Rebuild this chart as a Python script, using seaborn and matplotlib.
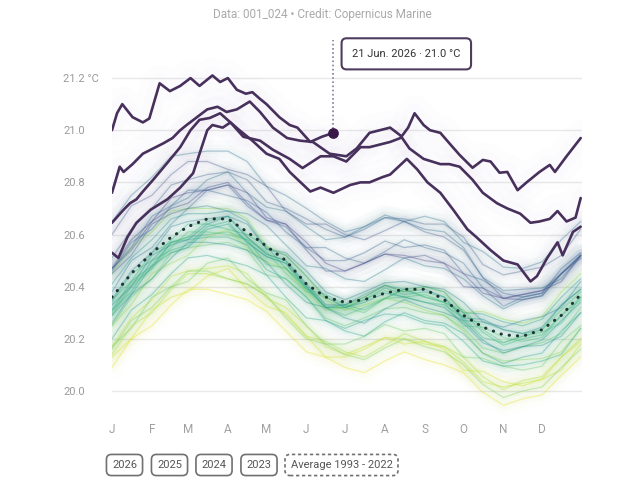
import pandas as pd
import matplotlib.pyplot as plt
import seaborn as sns
from matplotlib import colormaps

sns.set_theme(style="white")
plt.rcParams['font.family'] = ['Roboto', 'DejaVu Sans']

# day-of-year grid used for the average and the 1993-2022 years
grid_days = [0, 15, 31, 46, 59, 74, 90, 105, 120, 135, 151, 166, 181, 196, 212, 227, 243, 258, 273, 288, 304, 319, 334, 349, 364]
avg_temp = [20.36, 20.45, 20.53, 20.59, 20.63, 20.66, 20.66, 20.61, 20.555, 20.50, 20.41, 20.36, 20.34,
            20.35, 20.375, 20.39, 20.39, 20.35, 20.29, 20.245, 20.215, 20.21, 20.235, 20.29, 20.37]

# past years, anomaly vs the average in hundredths of a degree
anom_1993 = [-27, -25, -28, -26, -24, -27, -29, -26, -25, -27, -26, -23, -25, -28, -26, -24, -27, -25, -22, -25, -27, -24, -25, -23, -24]
anom_1994 = [-23, -25, -22, -23, -25, -22, -19, -22, -23, -20, -20, -23, -21, -19, -17, -21, -20, -19, -21, -17, -18, -19, -19, -16, -18]
anom_1995 = [-19, -17, -18, -15, -17, -19, -18, -16, -20, -18, -16, -19, -20, -18, -17, -19, -21, -18, -18, -21, -20, -18, -19, -21, -19]
anom_1996 = [-22, -20, -23, -20, -18, -21, -23, -20, -19, -21, -20, -17, -19, -22, -20, -17, -20, -18, -16, -19, -21, -17, -18, -16, -17]
anom_1997 = [-11, -12, -8, -10, -11, -7, -4, -6, -6, -3, -3, -5, -2, 1, 3, -1, 1, 3, 1, 6, 6, 5, 5, 9, 8]
anom_1998 = [9, 10, 8, 10, 7, 4, 4, 5, 0, 2, 3, -1, -3, -2, -2, -5, -8, -6, -6, -10, -10, -9, -11, -14, -13]
anom_1999 = [-20, -18, -21, -19, -17, -20, -23, -20, -19, -22, -21, -18, -20, -23, -21, -19, -22, -20, -19, -22, -24, -21, -22, -20, -21]
anom_2000 = [-19, -21, -17, -19, -21, -17, -15, -18, -18, -15, -16, -18, -16, -14, -12, -16, -15, -13, -16, -12, -12, -13, -14, -10, -12]
anom_2001 = [-11, -9, -10, -6, -8, -10, -9, -7, -11, -7, -5, -8, -9, -7, -6, -7, -9, -6, -5, -8, -7, -4, -5, -7, -5]
anom_2002 = [-6, -4, -6, -4, -2, -5, -6, -3, -2, -5, -3, 0, -2, -5, -2, 0, -3, -1, 2, -1, -3, 0, 0, 2, 1]
anom_2003 = [-1, -3, 0, -2, -4, -1, 1, -2, -3, 0, -1, -4, -2, 0, 1, -3, -2, -1, -4, 0, -1, -2, -3, 0, -2]
anom_2004 = [-7, -5, -6, -2, -4, -6, -5, -3, -7, -3, -1, -4, -5, -3, -2, -3, -5, -2, -1, -4, -3, 0, -1, -3, -1]
anom_2005 = [-2, 0, -3, -1, 1, -2, -4, -1, 0, -3, -2, 1, -1, -4, -2, 0, -3, -1, 1, -2, -4, -1, -2, 0, -1]
anom_2006 = [-5, -7, -3, -5, -7, -3, -1, -4, -4, -1, -2, -4, -2, 0, 2, -2, -1, 1, -2, 2, 2, 1, 0, 4, 2]
anom_2007 = [-5, -3, -5, -2, -5, -7, -7, -5, -9, -7, -5, -9, -10, -8, -8, -10, -13, -10, -10, -13, -12, -11, -12, -15, -13]
anom_2008 = [-16, -14, -16, -14, -12, -14, -16, -13, -11, -14, -13, -9, -11, -14, -11, -9, -12, -9, -7, -10, -11, -8, -9, -6, -7]
anom_2009 = [-7, -8, -5, -6, -8, -4, -2, -4, -4, -1, -1, -4, -1, 2, 3, 0, 1, 3, 1, 5, 5, 4, 4, 7, 6]
anom_2010 = [5, 6, 5, 7, 5, 2, 3, 4, -1, 2, 3, 0, -2, -1, 0, -3, -5, -3, -3, -6, -6, -4, -6, -8, -7]
anom_2011 = [-10, -8, -10, -8, -6, -9, -10, -7, -6, -9, -7, -4, -6, -9, -6, -4, -7, -5, -2, -5, -7, -4, -4, -2, -3]
anom_2012 = [-3, -5, -1, -3, -5, -2, 1, -2, -3, 0, 0, -3, -1, 1, 3, -1, 0, 1, -1, 3, 2, 1, 1, 4, 2]
anom_2013 = [-1, 1, 0, 4, 2, 0, 1, 3, -1, 3, 5, 2, 1, 3, 4, 3, 1, 4, 5, 2, 3, 6, 5, 3, 5]
anom_2014 = [2, 5, 2, 5, 7, 5, 3, 7, 8, 6, 7, 11, 9, 7, 9, 12, 9, 12, 14, 12, 10, 14, 13, 16, 15]
anom_2015 = [11, 10, 14, 12, 11, 15, 18, 15, 15, 19, 22, 22, 25, 28, 30, 26, 28, 30, 28, 29, 26, 26, 26, 29, 28]
anom_2016 = [29, 30, 29, 31, 28, 26, 26, 27, 23, 25, 29, 29, 27, 28, 29, 26, 23, 26, 26, 19, 17, 18, 16, 14, 15]
anom_2017 = [10, 12, 9, 12, 14, 11, 9, 12, 13, 11, 14, 19, 17, 14, 16, 19, 16, 18, 20, 15, 11, 15, 14, 16, 15]
anom_2018 = [9, 7, 11, 9, 7, 11, 13, 10, 10, 13, 14, 14, 16, 18, 20, 16, 17, 19, 16, 18, 16, 15, 14, 18, 16]
anom_2019 = [15, 17, 17, 20, 18, 17, 18, 20, 17, 20, 25, 26, 25, 27, 29, 27, 25, 29, 30, 24, 23, 25, 24, 23, 25]
anom_2020 = [24, 26, 22, 24, 25, 22, 19, 22, 23, 19, 23, 28, 26, 23, 24, 26, 22, 24, 25, 19, 14, 16, 15, 16, 15]
anom_2021 = [11, 9, 12, 11, 9, 12, 14, 11, 10, 14, 13, 10, 12, 14, 15, 12, 13, 14, 11, 15, 14, 14, 13, 16, 14]
anom_2022 = [11, 13, 12, 15, 13, 11, 13, 15, 11, 14, 16, 13, 12, 14, 15, 13, 11, 14, 16, 13, 14, 16, 15, 13, 15]

past_years = list(range(1993, 2023))
past_anoms = [anom_1993, anom_1994, anom_1995, anom_1996, anom_1997, anom_1998, anom_1999, anom_2000,
              anom_2001, anom_2002, anom_2003, anom_2004, anom_2005, anom_2006, anom_2007, anom_2008,
              anom_2009, anom_2010, anom_2011, anom_2012, anom_2013, anom_2014, anom_2015, anom_2016,
              anom_2017, anom_2018, anom_2019, anom_2020, anom_2021, anom_2022]

# highlighted years
days_2023 = [0, 5, 12, 19, 30, 43, 53, 63, 68, 74, 78, 86, 92, 102, 115, 125, 138, 148, 162, 172, 182, 193, 200,
             216, 224, 230, 235, 242, 247, 255, 262, 270, 280, 288, 294, 301, 307, 315, 322, 332, 340, 344, 353, 364]
temp_2023 = [20.53, 20.51, 20.59, 20.645, 20.695, 20.735, 20.78, 20.835, 20.91, 21.00, 21.02, 21.01, 21.03, 20.975,
             20.96, 20.925, 20.89, 20.855, 20.90, 20.90, 20.88, 20.935, 20.935, 20.955, 20.97, 21.01, 21.065, 21.02,
             21.00, 20.99, 20.95, 20.905, 20.856, 20.886, 20.88, 20.837, 20.84, 20.77, 20.80, 20.84, 20.867, 20.84,
             20.90, 20.97]
days_2024 = [0, 9, 14, 19, 24, 32, 43, 53, 61, 68, 76, 84, 92, 99, 109, 120, 130, 138, 154, 162, 172, 185, 193,
             200, 210, 216, 229, 237, 245, 255, 265, 276, 283, 294, 304, 315, 325, 330, 338, 346, 350, 358, 364]
temp_2024 = [20.645, 20.695, 20.72, 20.735, 20.765, 20.81, 20.875, 20.935, 21.00, 21.04, 21.047, 21.065, 21.03,
             21.00, 20.96, 20.91, 20.89, 20.84, 20.765, 20.78, 20.76, 20.79, 20.80, 20.80, 20.82, 20.83, 20.89,
             20.85, 20.80, 20.76, 20.695, 20.62, 20.59, 20.54, 20.50, 20.485, 20.42, 20.44, 20.51, 20.57, 20.52,
             20.61, 20.63]
days_2025 = [0, 6, 9, 16, 24, 32, 40, 47, 53, 58, 66, 74, 82, 89, 97, 107, 115, 125, 136, 146, 156, 169, 182,
             190, 200, 216, 224, 231, 242, 255, 262, 270, 280, 288, 299, 307, 317, 325, 332, 340, 346, 353, 360, 364]
temp_2025 = [20.76, 20.86, 20.84, 20.87, 20.91, 20.93, 20.95, 20.97, 21.00, 21.02, 21.05, 21.08, 21.09, 21.07,
             21.08, 21.11, 21.07, 21.01, 20.97, 20.96, 20.955, 20.91, 20.90, 20.93, 20.99, 21.01, 20.98, 20.93,
             20.89, 20.87, 20.87, 20.86, 20.81, 20.76, 20.72, 20.70, 20.68, 20.645, 20.65, 20.66, 20.69, 20.65,
             20.665, 20.74]
days_2026 = [0, 4, 8, 16, 24, 29, 37, 45, 53, 61, 68, 78, 84, 90, 97, 104, 109, 115, 120, 130, 138, 144, 154, 163, 172]
temp_2026 = [21.00, 21.066, 21.10, 21.05, 21.03, 21.045, 21.18, 21.15, 21.17, 21.20, 21.17, 21.21, 21.185, 21.20,
             21.155, 21.14, 21.146, 21.12, 21.10, 21.05, 21.02, 21.01, 20.955, 20.975, 20.99]

month_days = [0, 31, 59, 90, 120, 151, 181, 212, 243, 273, 304, 334]
month_labels = ['J', 'F', 'M', 'A', 'M', 'J', 'J', 'A', 'S', 'O', 'N', 'D']
y_ticks = [20.0, 20.2, 20.4, 20.6, 20.8, 21.0, 21.2]
y_labels = ['20.0', '20.2', '20.4', '20.6', '20.8', '21.0', '21.2 °C']
legend_labels = ['2026', '2025', '2024', '2023']

# build long table for the past years
rows = []
for year, anom in zip(past_years, past_anoms):
    for d, a, base in zip(grid_days, anom, avg_temp):
        rows.append((year, d, base + a / 100))
past = pd.DataFrame(rows, columns=['year', 'day', 'temp'])

cmap = colormaps['viridis']
pal = {y: cmap(0.95 - 0.75 * (y - 1993) / 29) for y in past_years}

fig = plt.figure(figsize=(6.38, 4.87), dpi=100)
ax = fig.add_axes([0.1755, 0.1437, 0.7367, 0.7495])

# soft haze (a few widths so it fades out) + thin lines for 1993-2022
for lw, a in [(16, 0.012), (9, 0.02), (4, 0.03)]:
    sns.lineplot(data=past, x='day', y='temp', hue='year', palette=pal, linewidth=lw, alpha=a,
                 legend=False, estimator=None, ax=ax)
sns.lineplot(data=past, x='day', y='temp', hue='year', palette=pal, linewidth=0.9, alpha=0.35,
             legend=False, estimator=None, ax=ax)

# average 1993-2022
sns.lineplot(x=grid_days, y=avg_temp, color='#1f3634', linewidth=2.2,
             linestyle=(0, (0.1, 2.6)), dash_capstyle='round', ax=ax)

purple = '#47305c'
highlighted = [(days_2023, temp_2023), (days_2024, temp_2024), (days_2025, temp_2025), (days_2026, temp_2026)]
for d, t in highlighted:
    for lw, a in [(26, 0.012), (14, 0.018)]:
        sns.lineplot(x=d, y=t, color='#a08cc4', linewidth=lw, alpha=a, ax=ax)
for d, t in highlighted:
    sns.lineplot(x=d, y=t, color=purple, linewidth=1.9, ax=ax, zorder=5)

# tooltip marker
ax.plot([days_2026[-1], days_2026[-1]], [temp_2026[-1], 21.345], color='#8a7a92', lw=1.2,
        linestyle=(0, (1, 1.5)), clip_on=False, zorder=4)
ax.scatter([days_2026[-1]], [temp_2026[-1]], s=45, color='#3a1848', zorder=6)
ax.text(186.5, 21.293, '21 Jun. 2026 · 21.0 °C', fontsize=8, color='#333333', va='center', ha='left',
        clip_on=False, bbox=dict(boxstyle='round,pad=0.95,rounding_size=0.45', fc='white', ec='#4f3c5c', lw=1.5))

ax.set_xlim(0, 365)
ax.set_ylim(19.9, 21.3)
ax.set_xticks(month_days)
ax.set_xticklabels(month_labels)
ax.set_yticks(y_ticks)
ax.set_yticklabels(y_labels)
for lbl in ax.get_yticklabels():
    lbl.set_horizontalalignment('left')
ax.tick_params(axis='y', length=0, pad=35, labelsize=8, labelcolor='#9a9a9a')
ax.tick_params(axis='x', length=0, pad=4, labelsize=8.5, labelcolor='#a0a0a0')
ax.set_xlabel('')
ax.set_ylabel('')
ax.yaxis.grid(True, color='#e9e9e9', lw=1)
ax.xaxis.grid(False)
for s in ax.spines.values():
    s.set_visible(False)

fig.text(0.505, 0.971, 'Data: 001_024 • Credit: Copernicus Marine', ha='center', va='center',
         fontsize=8.5, color='#aaaaaa')

# legend buttons
for lbl, xc in zip(legend_labels, [124.5, 169.5, 214, 259]):
    fig.text(xc / 638, 1 - 465 / 487, lbl, ha='center', va='center', fontsize=8, color='#555555',
             bbox=dict(boxstyle='round,pad=0.5,rounding_size=0.45', fc='white', ec='#707070', lw=1.2))
fig.text(341.5 / 638, 1 - 465 / 487, 'Average 1993 - 2022', ha='center', va='center', fontsize=8,
         color='#555555', bbox=dict(boxstyle='round,pad=0.5,rounding_size=0.45', fc='white', ec='#707070',
                                    lw=1.2, linestyle=(0, (2, 1.6))))

fig.savefig('out.png', dpi=100, facecolor='white')
